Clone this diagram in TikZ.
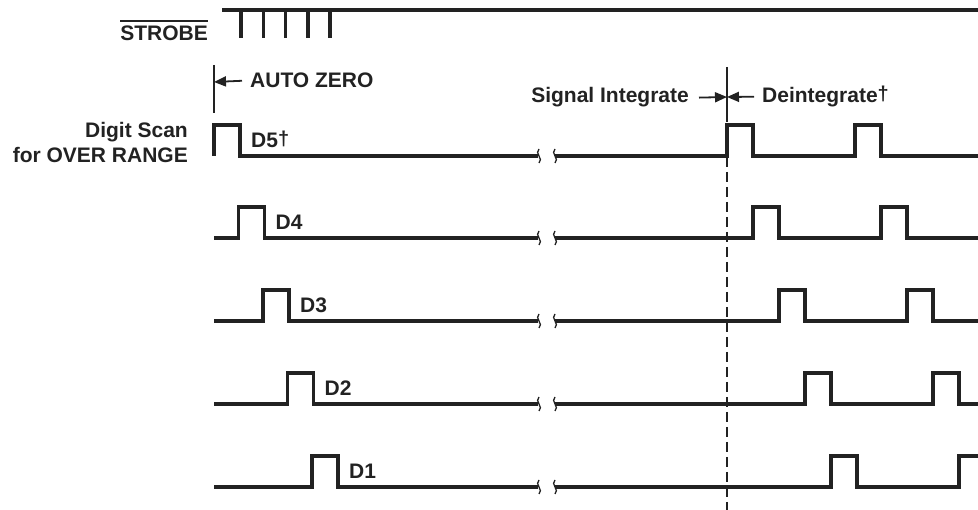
\documentclass[tikz,border=0pt]{standalone}
\usepackage{fontspec}
\setmainfont{Liberation Sans}
\usetikzlibrary{arrows.meta}
\definecolor{ink}{HTML}{222222}
\newcommand{\dagmark}{\raisebox{2.5pt}{\fontsize{20}{20}\selectfont\textdagger}}

\begin{document}
\begin{tikzpicture}[x=1pt,y=-1pt,
    wave/.style={ink,line width=3.1pt,line join=miter},
    brk/.style={ink,line width=1.3pt},
    guide/.style={ink,line width=1.3pt},
    marker/.style={ink,line width=1.8pt,-{Triangle[length=12pt,width=10pt]}},
    lbl/.style={font=\fontsize{21}{24}\selectfont\bfseries,text=ink,inner sep=0pt}]
    \useasboundingbox (0,0) rectangle (978,510);
    \clip (0,0) rectangle (978,510);
    % strobe
    \draw[wave] (222,10) -- (985,10);
    \foreach \x in {241,263.5,285.5,308,330}
      \draw[wave] (\x,10) -- (\x,38);
    \node[lbl,anchor=base east] (strobe) at (208,40.5) {STROBE};
    \draw[ink,line width=1.6pt] ([yshift=4.5pt]strobe.north west) -- ([yshift=4.5pt]strobe.north east);
    %
    \node[lbl,anchor=base east] (digitscan) at (188,138) {Digit Scan};
    \node[lbl,anchor=base east] (overrange) at (188,163) {for OVER RANGE};
    %
    \coordinate (azero) at (214,82);
    \draw[guide] (214,65) -- (214,113);
    \node[lbl,anchor=base west] (autozero) at (250,88) {AUTO ZERO};
    \draw[marker] ([xshift=-8pt]autozero.west) -- (azero);
    %
    \coordinate (split) at (727,97);
    \draw[guide] (727,67) -- (727,112);
    \draw[guide,dash pattern=on 10pt off 5pt] (727,112) -- (727,515);
    \node[lbl,anchor=base east] (sigint) at (689,103) {Signal Integrate};
    \node[lbl,anchor=base west] (deint) at (762,103) {Deintegrate\dagmark};
    \draw[marker] ([xshift=10pt]sigint.east) -- (split);
    \draw[marker] ([xshift=-8pt]deint.west) -- (split);
    %
    \foreach \lo/\p/\q/\name/\txt in {156/214/727/d5/{D5\dagmark},
        238/238.5/753/d4/D4, 321/263/779/d3/D3, 404/287.5/805/d2/D2, 487/312/831/d1/D1}{
      \draw[wave] (214,\lo) -- (\p,\lo) -- ++(0,-31) -- ++(26,0) -- ++(0,31) -- (538,\lo);
      \draw[wave] (555,\lo) -- (\q,\lo) -- ++(0,-31) -- ++(26,0) -- ++(0,31)
        -- ({\q+128},\lo) -- ++(0,-31) -- ++(26,0) -- ++(0,31) -- (990,\lo);
      \draw[brk] (539,{\lo-7}) .. controls (534,{\lo-3}) and (544,{\lo+3}) .. (539,{\lo+7});
      \draw[brk] (555,{\lo-7}) .. controls (550,{\lo-3}) and (560,{\lo+3}) .. (555,{\lo+7});
      \node[lbl,anchor=base west] (\name) at ({\p+37},{\lo-8}) {\txt};
    }
\end{tikzpicture}
\end{document}
